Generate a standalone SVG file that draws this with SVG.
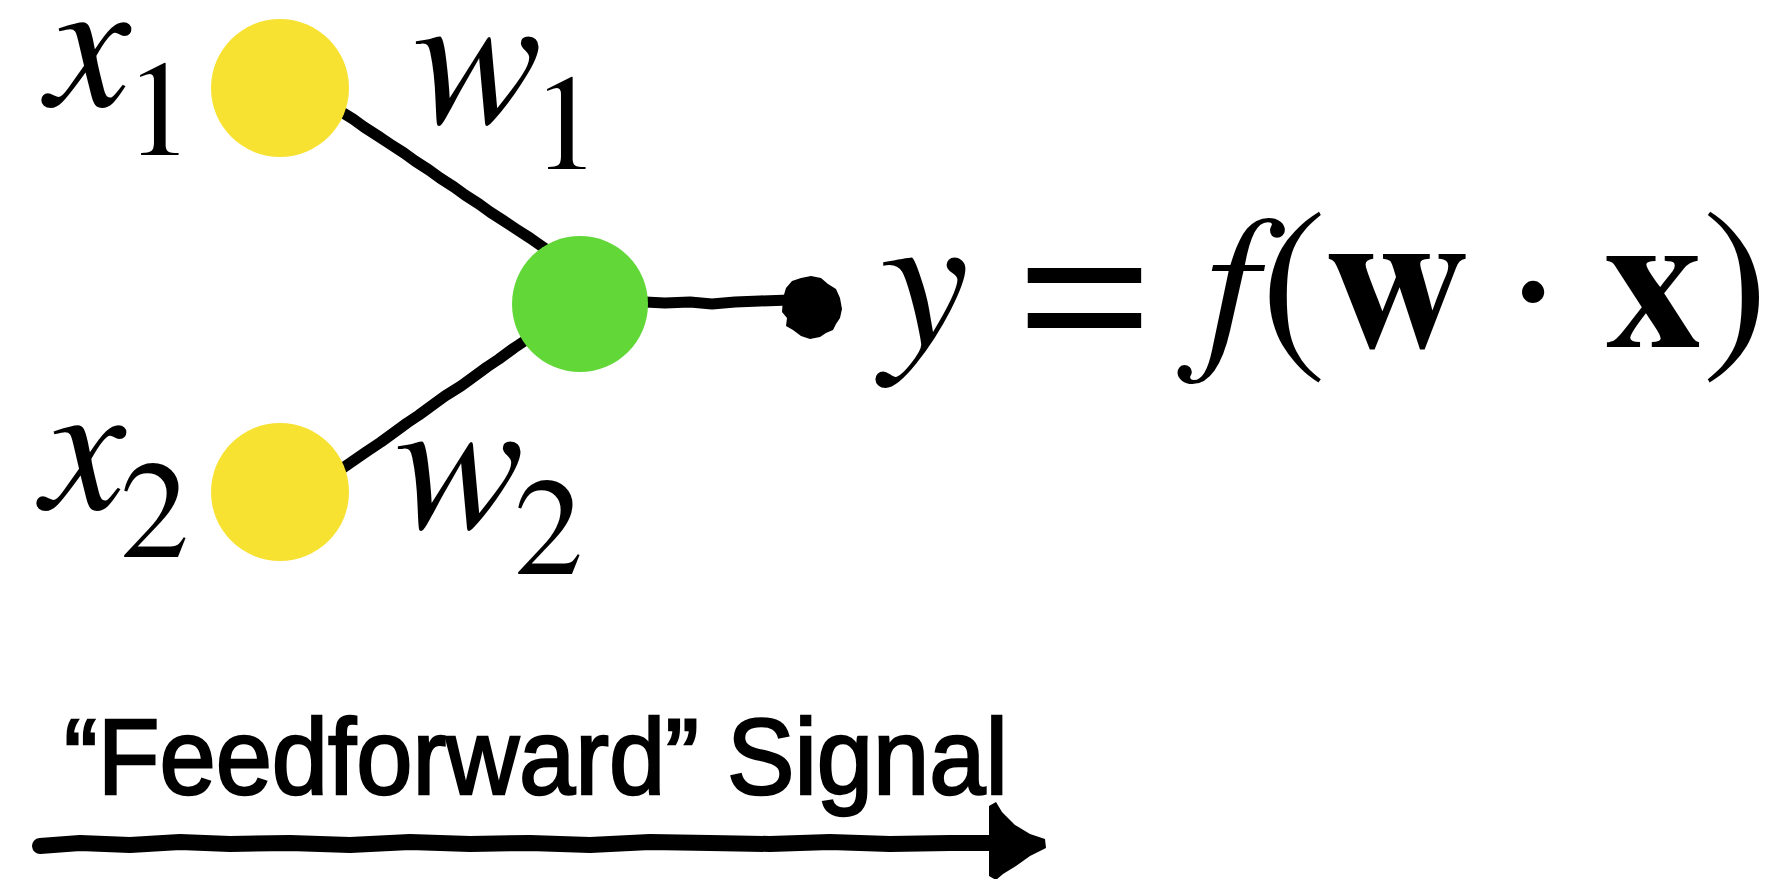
<svg xmlns="http://www.w3.org/2000/svg" width="1777" height="879" viewBox="0 0 1777 879">
<style>
.it{font-family:FreeSerif,"Liberation Serif","Times New Roman",serif;font-style:italic;fill:#000}
.rm{font-family:FreeSerif,"Liberation Serif","Times New Roman",serif;fill:#000}
.bd{font-family:FreeSerif,"Liberation Serif","Times New Roman",serif;font-weight:bold;fill:#000}
.wire{fill:none;stroke:#000;stroke-width:11;stroke-linecap:round;stroke-linejoin:round}
.sig{fill:none;stroke:#000;stroke-width:16;stroke-linecap:round;stroke-linejoin:round}
.input{fill:#F8E231}
.neuron{fill:#62D838}
.lbl{font-family:"Liberation Sans",Arial,sans-serif;fill:#000;stroke:#000;stroke-width:2.5}
</style>
<rect width="1777" height="879" fill="#fff"/>
<g id="connectors">
<path id="edge-x1" class="wire" d="M340,111 L353,119 L364,127 L378,136 L390,144 L404,153 L415,161 L429,170 L440,178 L454,187 L465,195 L479,204 L490,212 L504,221 L516,229 L530,238 L550,252"/>
<path id="edge-x2" class="wire" d="M340,470 L353,461 L366,452 L381,442 L392,434 L407,423 L419,415 L434,404 L445,396 L461,386 L472,378 L487,367 L499,359 L514,348 L532,336"/>
<path id="edge-out" class="wire" d="M645,302 L665,303 L690,302 L712,304 L735,302 L760,301 L790,300"/>
<path id="out-blob" fill="#000" d="M783,298 L786,288 L792,281 L801,278 L811,276 L821,278 L828,284 L836,289 L840,298 L842,309 L840,318 L836,324 L833,330 L826,333 L820,337 L810,339 L801,336 L793,330 L786,326 L787,318 L782,312 Z"/>
<path id="feedforward-arrow" class="sig" d="M40,846 L80,843 L130,845 L180,842 L230,844 L290,843 L350,845 L410,842 L470,844 L530,843 L590,845 L650,842 L710,843 L770,844 L830,842 L890,844 L950,843 L995,843"/>
<path id="feedforward-head" fill="#000" d="M989,806 L996,802 L1002,812 L1015,825 L1030,834 L1045,839 L1046,848 L1030,856 L1016,866 L1003,874 L996,880 L989,876 Z"/>
</g>
<g id="node-x1">
<circle class="input" cx="280" cy="88" r="69"/>
<text class="it" x="47" y="106" font-size="190">x</text>
<text class="rm" x="125" y="155" font-size="136">1</text>
</g>
<g id="node-x2">
<circle class="input" cx="280" cy="492" r="69"/>
<text class="it" x="42" y="509" font-size="190">x</text>
<text class="rm" x="120" y="557" font-size="138">2</text>
</g>
<g id="node-neuron">
<circle class="neuron" cx="580" cy="304" r="68"/>
</g>
<g id="weight-labels">
<text class="it" x="406" y="123" font-size="194">w</text>
<text class="rm" x="532" y="169" font-size="136">1</text>
<text class="it" x="388" y="528" font-size="194">w</text>
<text class="rm" x="514" y="574" font-size="138">2</text>
</g>
<g id="output-formula">
<text class="it" x="873" y="347" font-size="200">y</text>
<text class="rm" x="1021" y="355" font-size="225">=</text>
<text class="it" x="1192" y="345" font-size="188">f</text>
<text class="rm" x="1260" y="347" font-size="200">(</text>
<text class="bd" x="1327" y="347" font-size="200">w</text>
<text class="rm" x="1508" y="358" font-size="200">·</text>
<text class="bd" x="1603" y="347" font-size="196">x</text>
<text class="rm" x="1702" y="347" font-size="200">)</text>
</g>
<g id="signal-label">
<text class="lbl" x="64" y="794" font-size="107" textLength="944" lengthAdjust="spacingAndGlyphs">“Feedforward” Signal</text>
</g>
</svg>
